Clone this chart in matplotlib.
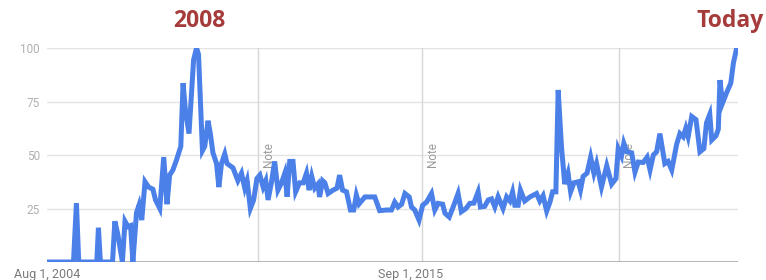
import numpy as np
import matplotlib
matplotlib.use('Agg')
from matplotlib import pyplot as plt

# search interest, vertices (decimal year, value 0-100)
years = [2004.58, 2005.39, 2005.48, 2005.55, 2006.10, 2006.15, 2006.21, 2006.58, 2006.65, 2006.74,
         2006.88, 2006.96, 2007.05, 2007.13, 2007.20, 2007.31, 2007.39, 2007.47, 2007.57, 2007.68,
         2007.81, 2007.89, 2008.02, 2008.14, 2008.24, 2008.32, 2008.42, 2008.53, 2008.66, 2008.73,
         2008.80, 2008.91, 2009.05, 2009.14, 2009.20, 2009.32, 2009.39, 2009.49, 2009.56, 2009.64,
         2009.75, 2009.82, 2009.90, 2010.00, 2010.07, 2010.25, 2010.40, 2010.51, 2010.61, 2010.68,
         2010.78, 2010.88, 2010.98, 2011.07, 2011.17, 2011.25, 2011.32, 2011.42, 2011.52, 2011.62,
         2011.73, 2011.83, 2011.90, 2011.98, 2012.08, 2012.16, 2012.28, 2012.39, 2012.49, 2012.57,
         2012.65, 2012.74, 2012.84, 2012.89, 2012.98, 2013.05, 2013.15, 2013.30, 2013.42, 2013.50,
         2013.59, 2013.71, 2013.83, 2013.93, 2014.01, 2014.09, 2014.27, 2014.57, 2014.72, 2014.93,
         2015.08, 2015.18, 2015.28, 2015.39, 2015.49, 2015.62, 2015.69, 2015.79, 2015.92, 2016.03,
         2016.15, 2016.30, 2016.40, 2016.50, 2016.64, 2016.71, 2016.84, 2016.96, 2017.11, 2017.21,
         2017.35, 2017.47, 2017.59, 2017.72, 2017.79, 2017.92, 2018.03, 2018.13, 2018.23, 2018.33,
         2018.48, 2018.59, 2018.69, 2018.77, 2018.84, 2018.94, 2019.01, 2019.14, 2019.30, 2019.50,
         2019.60, 2019.70, 2019.81, 2019.91, 2019.99, 2020.09, 2020.16, 2020.26, 2020.36, 2020.46,
         2020.54, 2020.64, 2020.77, 2020.84, 2020.92, 2021.04, 2021.15, 2021.25, 2021.33, 2021.48,
         2021.64, 2021.79, 2021.92, 2021.99, 2022.09, 2022.16, 2022.25, 2022.40, 2022.50, 2022.60,
         2022.75, 2022.87, 2022.96, 2023.06, 2023.16, 2023.26, 2023.41, 2023.51, 2023.62, 2023.77,
         2023.87, 2023.97, 2024.05, 2024.12, 2024.23, 2024.36, 2024.48, 2024.60, 2024.68, 2024.78,
         2024.84, 2024.97, 2025.04, 2025.09, 2025.17, 2025.29, 2025.42, 2025.50, 2025.60]
interest = [0, 0, 27.5, 0, 0, 16, 0, 0, 19, 13,
            0, 19, 16.5, 17, 0, 23, 26.7, 19.6, 37.5, 35,
            34, 29, 25, 49, 27, 40.6, 43, 47.7, 54, 83.6,
            71, 60, 94.4, 100, 97, 52, 54, 66, 60, 51,
            46, 35, 46, 50.5, 46, 44, 38, 41.5, 34.5, 38,
            25, 29, 39, 40.6, 35, 38, 29, 37, 47, 33.6,
            37, 41.5, 30.5, 47, 47, 32.8, 37, 37, 41.5, 33.6,
            40, 34.5, 36.4, 30.4, 38, 37, 32, 33.6, 34.5, 40.6,
            33.6, 32.8, 24.3, 24.3, 31.3, 27.1, 30.4, 30.4, 24, 24.3,
            24.3, 28, 25.7, 27, 32, 30.4, 25.7, 24.3, 19.6, 26.5,
            28, 32, 24.3, 27.4, 27, 22.8, 21, 25.7, 32, 23.5,
            25, 27.4, 27.5, 32.8, 25.7, 26, 29, 29.5, 25.7, 30.5,
            25, 30.4, 28.5, 32.7, 26.5, 26.5, 33.6, 28.5, 30.4, 32,
            28.5, 31, 23.8, 28, 32.8, 32.8, 80.4, 54, 36.4, 41.5,
            32.8, 37, 37.5, 33.6, 40, 41.5, 49, 41.5, 46, 35,
            45, 36.4, 39, 53, 49.5, 55.5, 51.5, 51, 42, 46.7,
            46.5, 49, 43, 50, 51.5, 60, 46, 47, 43, 55,
            60, 58.5, 62.5, 58.5, 68, 66.5, 51.5, 53, 65, 69,
            57, 59, 62, 85, 74.3, 79, 83.6, 93, 100]

note_years = [2011.0, 2016.0, 2022.0]
x_ticks = [2004.583, 2015.667]
x_labels = ['Aug 1, 2004', 'Sep 1, 2015']
y_ticks = [25, 50, 75, 100]

plt.rcParams['font.family'] = ['Roboto', 'DejaVu Sans']

fig = plt.figure(figsize=(7.66, 2.80), dpi=100)
ax = fig.add_axes([47/766, 1-262/280, (738-47)/766, (262-48)/280])

for yv in y_ticks:
    ax.axhline(yv, color='#e3e3e3', lw=1, zorder=0)
ax.axhline(0, color='#a8a8a8', lw=1.2, zorder=1)
for nx in note_years:
    ax.axvline(nx, color='#d6d6d6', lw=1, zorder=0)
    ax.text(nx + 0.12, 50, 'Note', rotation=90, color='#9a9a9a', fontsize=8.5,
            ha='left', va='center', zorder=1)

ax.plot(years, interest, color='#4a80e8', lw=3.6, solid_joinstyle='miter', zorder=3)

ax.set_xlim(2004.583, 2025.64)
ax.set_ylim(0, 100)
ax.set_yticks(y_ticks)
ax.set_yticklabels([str(v) for v in y_ticks], color='#b0b0b0', fontsize=8.5)
ax.set_xticks(x_ticks)
ax.set_xticklabels(x_labels, color='#7a7a7a', fontsize=9)
ax.tick_params(length=0, pad=5)
ax.tick_params(axis='x', pad=4)
for s in ax.spines.values():
    s.set_visible(False)

fig.text(199/766, 1-21/280, '2008', color='#a63b3b', fontsize=16.5, fontweight='bold',
         family=['Open Sans', 'DejaVu Sans'], ha='center', va='center')
fig.text(764/766, 1-21/280, 'Today', color='#a63b3b', fontsize=16.5, fontweight='bold',
         family=['Open Sans', 'DejaVu Sans'], ha='right', va='center')

fig.savefig('out.png', dpi=100, facecolor='white')
